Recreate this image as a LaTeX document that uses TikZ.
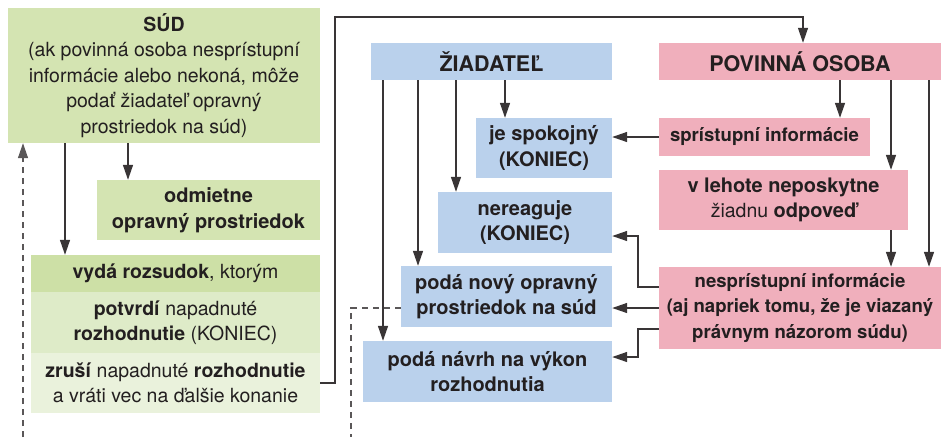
\documentclass[tikz,border=0pt]{standalone}
\usepackage{fontspec}
\setmainfont{TeX Gyre Heros}
\usetikzlibrary{arrows.meta}
\definecolor{ink}{RGB}{35,31,32}
\definecolor{sudg}{RGB}{212,228,178}
\definecolor{vydag}{RGB}{205,224,166}
\definecolor{potg}{RGB}{222,235,200}
\definecolor{zrug}{RGB}{234,242,220}
\definecolor{ziab}{RGB}{186,209,236}
\definecolor{povp}{RGB}{240,175,188}
\begin{document}
\begin{tikzpicture}[x=1pt,y=-1pt,
  box/.style={inner sep=0pt, align=center, text=ink,
    font=\fontsize{19.5}{25.5}\selectfont},
  boldbox/.style={box, font=\fontsize{20}{25.5}\selectfont\bfseries},
  smallbold/.style={box, font=\fontsize{18.6}{25.5}\selectfont\bfseries},
  headbox/.style={box, font=\fontsize{21.5}{25.5}\selectfont\bfseries},
  conn/.style={draw=ink!90, line width=1.4pt},
  arr/.style={conn, -{Triangle[length=15pt,width=10pt]}},
  dashline/.style={draw=ink!75, line width=1.3pt, dash pattern=on 6pt off 5pt}]
\useasboundingbox (0,0) rectangle (941,437);

% court column
\node[box, fill=sudg, minimum width=312pt, minimum height=135pt] (sud) at (164,75.5)
  {\textbf{SÚD}\\(ak povinná osoba nesprístupní\\informácie alebo nekoná, môže\\podať žiadateľ opravný\\prostriedok na súd)};
\node[boldbox, fill=sudg, minimum width=223pt, minimum height=60pt] (odm) at (208.5,210)
  {odmietne\\opravný prostriedok};
\node[box, fill=vydag, minimum width=289pt, minimum height=37pt] (vyda) at (175.5,273.5)
  {\textbf{vydá rozsudok}, ktorým};
\node[box, fill=potg, minimum width=289pt, minimum height=61pt] (potv) at (175.5,322.5)
  {\textbf{potvrdí} napadnuté\\\textbf{rozhodnutie} (KONIEC)};
\node[box, fill=zrug, minimum width=289pt, minimum height=60pt] (zrusi) at (175.5,383)
  {\textbf{zruší} napadnuté \textbf{rozhodnutie}\\a vráti vec na ďalšie konanie};

% applicant column
\node[headbox, fill=ziab, minimum width=241pt, minimum height=37pt] (zia) at (491.5,61.5)
  {ŽIADATEĽ};
\node[boldbox, fill=ziab, minimum width=136pt, minimum height=60pt] (spok) at (544,148)
  {je spokojný\\(KONIEC)};
\node[boldbox, fill=ziab, minimum width=174pt, minimum height=61pt] (ner) at (525,222.5)
  {nereaguje\\(KONIEC)};
\node[boldbox, fill=ziab, minimum width=211pt, minimum height=61pt] (novy) at (506.5,296.5)
  {podá nový opravný\\prostriedok na súd};
\node[boldbox, fill=ziab, minimum width=249pt, minimum height=61pt] (navrh) at (487.5,371.5)
  {podá návrh na výkon\\rozhodnutia};

% obliged person column
\node[headbox, fill=povp, minimum width=282pt, minimum height=37pt] (pov) at (800,61.5)
  {POVINNÁ OSOBA};
\node[smallbold, fill=povp, minimum width=211pt, minimum height=38pt] (spr) at (764.5,137)
  {sprístupní informácie};
\node[box, fill=povp, minimum width=249pt, minimum height=60pt] (leh) at (783.5,200)
  {{\fontsize{20}{25.5}\selectfont\bfseries v lehote neposkytne}\\žiadnu {\fontsize{20}{25.5}\selectfont\bfseries odpoveď}};
\node[smallbold, fill=povp, minimum width=282pt, minimum height=82pt] (nesp) at (800,308)
  {nesprístupní informácie\\(aj napriek tomu, že je viazaný\\právnym názorom súdu)};

% guide coordinates
\coordinate (c65) at (65,0);
\coordinate (c128) at (128,0);
\coordinate (c383) at (383,0);
\coordinate (c418) at (418,0);
\coordinate (c456) at (456,0);
\coordinate (c505) at (505,0);
\coordinate (c840) at (840,0);
\coordinate (c891) at (891,0);
\coordinate (c929) at (929,0);
\coordinate (up1) at (335,17);
\coordinate (up2) at (803,17);
\coordinate (k1) at (638,236);
\coordinate (k2) at (638,357);
\coordinate (dsud) at (23,437);
\coordinate (dnov) at (351,437);

% court
\draw[arr] (sud.south -| c65) -- (vyda.north -| c65);
\draw[arr] (sud.south -| c128) -- (odm.north -| c128);
\draw[dashline, -{Triangle[length=15pt,width=10pt]}] (dsud) -- (sud.south -| dsud);
\draw[arr, line width=1.2pt] (zrusi.east) -| (up1) -- (up2) -- (pov.north -| up2);

% applicant
\draw[arr] (zia.south -| c505) -- (spok.north -| c505);
\draw[arr] (zia.south -| c456) -- (ner.north -| c456);
\draw[arr] (zia.south -| c418) -- (novy.north -| c418);
\draw[arr] (zia.south -| c383) -- (navrh.north -| c383);
\draw[dashline] ([yshift=-11.5pt]novy.west) -| (dnov);

% obliged person
\draw[arr] (pov.south -| c840) -- (spr.north -| c840);
\draw[arr] (pov.south -| c891) -- (leh.north -| c891);
\draw[arr] (leh.south -| c891) -- (nesp.north -| c891);
\draw[arr] (pov.south -| c929) -- (nesp.north -| c929);
\draw[arr] (spr.west) -- (spok.east |- spr.west);
\draw[arr] ([yshift=21pt]nesp.west) -| (k1) -- (ner.east |- k1);
\draw[arr] (nesp.west) -- (novy.east |- nesp.west);
\draw[arr] ([yshift=-21pt]nesp.west) -| (k2) -- (navrh.east |- k2);
\end{tikzpicture}
\end{document}
